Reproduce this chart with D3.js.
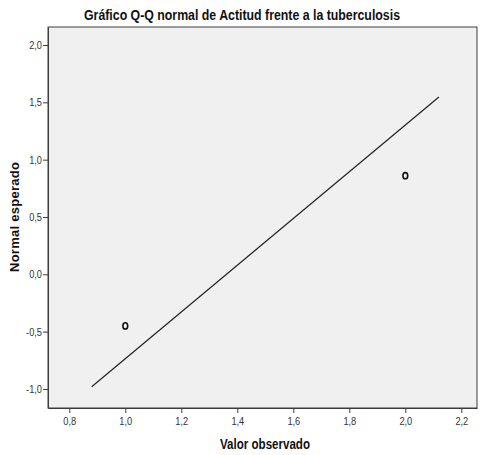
<!DOCTYPE html>
<html><head><meta charset="utf-8">
<script src="https://cdn.jsdelivr.net/npm/d3@7"></script>
<style>body{margin:0;background:#fff}text{font-family:"Liberation Sans",Arial,sans-serif}</style>
</head><body><svg id="c" width="480" height="455"></svg>
<script>
const observed = [1.0, 2.0];
const expected = [-0.45, 0.86];
const lineX = [0.88, 2.12];
const lineY = [-0.98, 1.546];
const xTicks = [0.8, 1.0, 1.2, 1.4, 1.6, 1.8, 2.0, 2.2];
const yTicks = [-1.0, -0.5, 0.0, 0.5, 1.0, 1.5, 2.0];

const FONT = '"Liberation Sans",Arial,sans-serif';
const svg = d3.select("#c");
const L = 48, R = 477, T = 27, B = 408;
const x = d3.scaleLinear().domain([0.724, 2.256]).range([L, R]);
const y = d3.scaleLinear().domain([-1.166, 2.157]).range([B, T]);
const fmt = d => d.toFixed(1).replace(".", ",");
const narrow = (sel, f) => sel.each(function () {
  const w = this.getComputedTextLength();
  d3.select(this).attr("textLength", w * f).attr("lengthAdjust", "spacingAndGlyphs");
});

svg.append("rect").attr("x", L).attr("y", T).attr("width", R - L).attr("height", B - T)
  .attr("fill", "#f0f0f0").attr("stroke", "#3c3c3c").attr("stroke-width", 1);

const ax = svg.append("g").attr("transform", `translate(0,${B})`)
  .call(d3.axisBottom(x).tickValues(xTicks).tickFormat(fmt).tickSize(5).tickSizeOuter(0));
const ay = svg.append("g").attr("transform", `translate(${L},0)`)
  .call(d3.axisLeft(y).tickValues(yTicks).tickFormat(fmt).tickSize(5).tickSizeOuter(0));
[ax, ay].forEach(g => {
  g.select(".domain").attr("stroke", "#3c3c3c");
  g.selectAll(".tick line").attr("stroke", "#3c3c3c");
  g.selectAll(".tick text").attr("fill", "#333").style("font-size", "11px")
    .style("font-family", FONT);
  narrow(g.selectAll(".tick text"), 0.84);
});
ax.selectAll(".tick text").attr("dy", "0.85em");
ay.selectAll(".tick text").attr("x", -6);

svg.append("line").attr("x1", x(lineX[0])).attr("y1", y(lineY[0]))
  .attr("x2", x(lineX[1])).attr("y2", y(lineY[1]))
  .attr("stroke", "#222").attr("stroke-width", 1.2);

svg.selectAll("ellipse.pt").data(observed).enter().append("ellipse")
  .attr("class", "pt").attr("cx", d => x(d)).attr("cy", (d, i) => y(expected[i]))
  .attr("rx", 2.4).attr("ry", 3.1).attr("fill", "none").attr("stroke", "#111").attr("stroke-width", 1.6);

svg.append("text").attr("x", 242).attr("y", 20).attr("text-anchor", "middle")
  .style("font-size", "14.5px").style("font-weight", "bold").attr("fill", "#111")
  .attr("textLength", 316).attr("lengthAdjust", "spacingAndGlyphs")
  .text("Gráfico Q-Q normal de Actitud frente a la tuberculosis");
svg.append("text").attr("x", 265).attr("y", 449).attr("text-anchor", "middle")
  .style("font-size", "14px").style("font-weight", "bold").attr("fill", "#111")
  .attr("textLength", 90).attr("lengthAdjust", "spacingAndGlyphs")
  .text("Valor observado");
svg.append("text").attr("transform", "translate(19,217) rotate(-90)").attr("text-anchor", "middle")
  .style("font-size", "13px").style("font-weight", "bold").attr("fill", "#111")
  .attr("textLength", 110).attr("lengthAdjust", "spacing")
  .text("Normal esperado");
</script></body></html>
